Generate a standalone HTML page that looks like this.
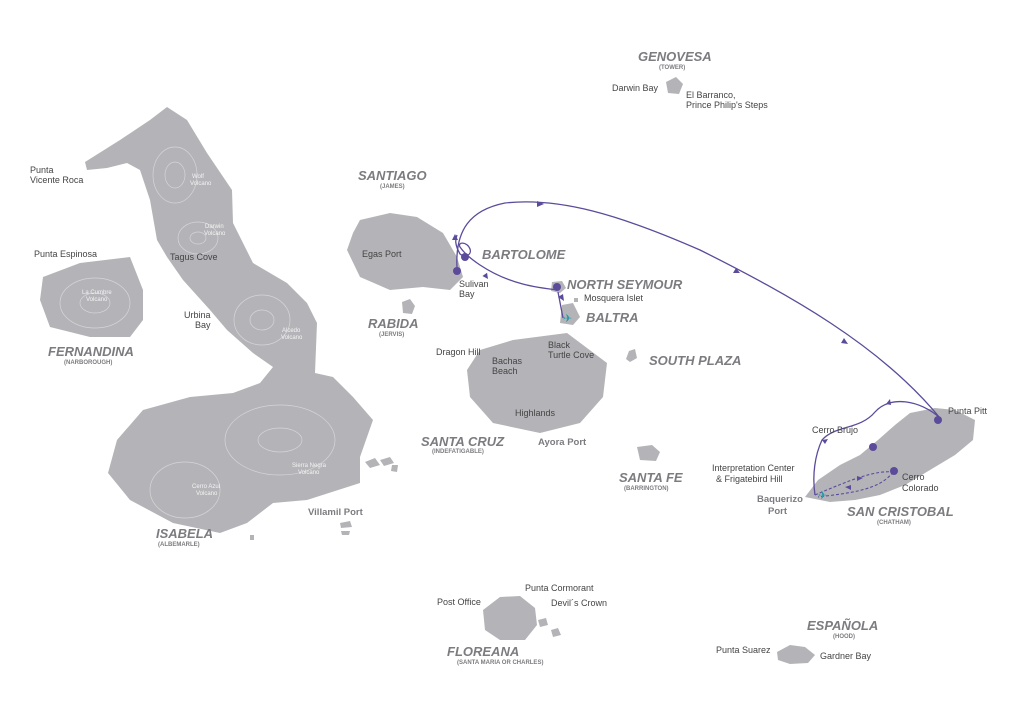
<!DOCTYPE html>
<html><head><meta charset="utf-8"><style>
html,body{margin:0;padding:0;background:#fff;}
svg{display:block;}
.l{font-family:"Liberation Sans",sans-serif;font-size:9px;fill:#444;}
.w{font-family:"Liberation Sans",sans-serif;font-size:6px;fill:#f4f4f4;}
.h{font-family:"Liberation Sans",sans-serif;font-size:13px;font-weight:bold;font-style:italic;fill:#7c7c80;}
.s{font-family:"Liberation Sans",sans-serif;font-size:6px;font-weight:bold;fill:#7c7c80;}
.p{font-family:"Liberation Sans",sans-serif;font-size:9.5px;font-weight:bold;fill:#7c7c80;}
</style></head><body>
<svg width="1024" height="722" viewBox="0 0 1024 722" xmlns="http://www.w3.org/2000/svg">
<defs><marker id="a" viewBox="0 0 10 10" refX="5" refY="5" markerWidth="5" markerHeight="5" orient="auto"><path d="M0,0 L10,5 L0,10 z" fill="#5b4b9a"/></marker></defs>
<g fill="#b4b4b8">
<!-- Isabela -->
<path d="M85,162 L120,140 L150,120 L167,107 L187,120 L207,153 L232,190 L233,223 L253,263 L287,283 L307,303 L317,323 L315,373 L333,377 L353,397 L373,420 L360,457 L360,483 L307,500 L273,503 L247,523 L220,533 L173,523 L130,500 L108,473 L117,440 L143,410 L190,397 L233,393 L260,383 L273,367 L253,353 L227,330 L210,310 L183,280 L167,257 L157,240 L150,200 L140,170 L127,163 L107,168 L87,170 Z"/>
<!-- Fernandina -->
<path d="M43,277 L80,263 L130,257 L143,290 L143,320 L130,337 L90,337 L50,327 L40,300 Z"/>
<!-- Santiago -->
<path d="M360,220 L390,213 L417,217 L443,233 L457,257 L463,277 L450,290 L423,287 L390,290 L360,277 L347,250 L353,233 Z"/>
<!-- Rabida -->
<path d="M402,302 L410,299 L415,306 L412,314 L403,313 Z"/>
<!-- Santa Cruz -->
<path d="M480,350 L513,340 L567,333 L607,363 L603,397 L580,423 L540,433 L493,423 L470,397 L467,370 Z"/>
<!-- Baltra -->
<path d="M562,305 L573,303 L580,317 L573,325 L560,323 Z"/>
<!-- N Seymour -->
<path d="M552,282 L562,281 L566,288 L560,293 L551,291 Z"/>
<path d="M574,298 L578,298 L578,302 L574,302 Z"/>
<!-- South Plaza -->
<path d="M629,351 L635,349 L637,358 L630,362 L626,359 Z"/>
<!-- Santa Fe -->
<path d="M637,447 L652,445 L660,452 L656,461 L640,460 Z"/>
<!-- Genovesa -->
<path d="M666,82 L676,77 L683,84 L679,94 L668,93 Z"/>
<!-- San Cristobal -->
<path d="M805,497 L818,480 L840,465 L860,455 L878,440 L895,425 L910,413 L935,408 L955,410 L975,420 L973,440 L955,455 L930,470 L905,485 L880,495 L855,500 L830,502 Z"/>
<!-- Floreana -->
<path d="M483,610 L500,597 L520,596 L535,608 L537,625 L525,640 L500,640 L485,630 Z"/>
<path d="M538,620 L546,618 L548,625 L540,627 Z"/>
<path d="M551,630 L558,628 L561,635 L553,637 Z"/>
<!-- Española -->
<path d="M777,652 L790,645 L805,647 L815,655 L808,663 L790,664 L778,660 Z"/>
<!-- small islets near Isabela -->
<path d="M365,462 L375,458 L380,465 L370,468 Z"/><path d="M380,460 L390,457 L394,463 L384,466 Z"/><path d="M392,465 L398,465 L397,472 L391,471 Z"/>
<path d="M340,523 L350,521 L352,527 L341,528 Z"/><path d="M341,531 L350,531 L349,535 L342,535 Z"/><path d="M250,535 L254,535 L254,540 L250,540 Z"/>
</g>
<!-- contour hints -->
<g fill="none" stroke="#d6d6d9" stroke-width="0.7">
<ellipse cx="175" cy="175" rx="22" ry="28"/><ellipse cx="175" cy="175" rx="10" ry="13"/>
<ellipse cx="198" cy="238" rx="20" ry="16"/><ellipse cx="198" cy="238" rx="8" ry="6"/>
<ellipse cx="262" cy="320" rx="28" ry="25"/><ellipse cx="262" cy="320" rx="12" ry="10"/>
<ellipse cx="280" cy="440" rx="55" ry="35"/><ellipse cx="280" cy="440" rx="22" ry="12"/>
<ellipse cx="185" cy="490" rx="35" ry="28"/>
<ellipse cx="95" cy="303" rx="35" ry="25"/><ellipse cx="95" cy="303" rx="15" ry="10"/>
</g>
<!-- routes -->
<g fill="none" stroke="#5b4b9a" stroke-width="1.3">
<path d="M558,290 C540,288 510,285 480,265 C468,257 462,250 460,247 C457,242 467,241 470,249 C472,255 465,258 460,254 C455,245 455,240 457,235" />
<path d="M563,318 L558,292" marker-mid="url(#a)"/>
<path d="M457,268 C455,230 470,210 505,203 C560,197 620,215 700,250 C790,295 880,345 940,418"/>
<path d="M940,418 C920,400 890,395 875,412 C860,430 835,425 822,440 C815,455 812,475 815,495"/>
</g>
<g fill="none" stroke="#5b4b9a" stroke-width="1.1" stroke-dasharray="3,2">
<path d="M815,495 C850,480 875,470 893,472"/>
<path d="M893,472 C880,490 850,493 818,497"/>
</g>
<!-- arrowheads -->
<g fill="#5b4b9a">
<path d="M564,301 l-6,-4 l5,-3 z"/>
<path d="M488,279 l-6,-2 l4,-4 z" transform="rotate(10 488 279)"/>
<path d="M455,234 l-3,6 l6,0 z"/>
<path d="M544,204 l-7,-3 l0,6 z"/>
<path d="M740,273 l-7,0 l3,-5 z"/>
<path d="M848,344 l-7,-1 l3,-5 z"/>
<path d="M886,404 l4,-5 l1,6 z"/>
<path d="M822,440 l6,-1 l-3,5 z"/>
<path d="M863,478 l-6,-2 l0,5 z"/>
<path d="M845,487 l6,-2 l0,5 z"/>
</g>
<!-- dots -->
<g fill="#5b4b9a">
<circle cx="457" cy="271" r="4"/><circle cx="465" cy="257" r="4"/><circle cx="557" cy="287" r="4"/>
<circle cx="938" cy="420" r="4"/><circle cx="873" cy="447" r="4"/><circle cx="894" cy="471" r="4"/>
</g>
<text x="563" y="322" font-size="11" fill="#2a9aa8" font-family="DejaVu Sans">✈</text>
<text x="818" y="499" font-size="11" fill="#2a9aa8" font-family="DejaVu Sans">✈</text>
<!-- headings -->
<text class="h" x="638" y="61">GENOVESA</text><text class="s" x="659" y="69">(TOWER)</text>
<text class="h" x="358" y="180">SANTIAGO</text><text class="s" x="380" y="188">(JAMES)</text>
<text class="h" x="482" y="259">BARTOLOME</text>
<text class="h" x="567" y="289">NORTH SEYMOUR</text>
<text class="h" x="586" y="322">BALTRA</text>
<text class="h" x="368" y="328">RABIDA</text><text class="s" x="379" y="336">(JERVIS)</text>
<text class="h" x="649" y="365">SOUTH PLAZA</text>
<text class="h" x="48" y="356">FERNANDINA</text><text class="s" x="64" y="364">(NARBOROUGH)</text>
<text class="h" x="421" y="446">SANTA CRUZ</text><text class="s" x="432" y="453">(INDEFATIGABLE)</text>
<text class="h" x="619" y="482">SANTA FE</text><text class="s" x="624" y="490">(BARRINGTON)</text>
<text class="h" x="156" y="538">ISABELA</text><text class="s" x="158" y="546">(ALBEMARLE)</text>
<text class="h" x="847" y="516">SAN CRISTOBAL</text><text class="s" x="877" y="524">(CHATHAM)</text>
<text class="h" x="447" y="656">FLOREANA</text><text class="s" x="457" y="664">(SANTA MARIA OR CHARLES)</text>
<text class="h" x="807" y="630">ESPAÑOLA</text><text class="s" x="833" y="638">(HOOD)</text>
<text class="p" x="538" y="445">Ayora Port</text>
<text class="p" x="308" y="515">Villamil Port</text>
<text class="p" x="757" y="502">Baquerizo</text><text class="p" x="768" y="514">Port</text>
<!-- labels -->
<text class="l" x="612" y="91">Darwin Bay</text>
<text class="l" x="686" y="98">El Barranco,</text><text class="l" x="686" y="108">Prince Philip's Steps</text>
<text class="l" x="30" y="173">Punta</text><text class="l" x="30" y="183">Vicente Roca</text>
<text class="l" x="34" y="257">Punta Espinosa</text>
<text class="l" x="170" y="260">Tagus Cove</text>
<text class="l" x="184" y="318">Urbina</text><text class="l" x="195" y="328">Bay</text>
<text class="l" x="362" y="257">Egas Port</text>
<text class="l" x="459" y="287">Sulivan</text><text class="l" x="459" y="297">Bay</text>
<text class="l" x="584" y="301">Mosquera Islet</text>
<text class="l" x="436" y="355">Dragon Hill</text>
<text class="l" x="548" y="348">Black</text><text class="l" x="548" y="358">Turtle Cove</text>
<text class="l" x="492" y="364">Bachas</text><text class="l" x="492" y="374">Beach</text>
<text class="l" x="515" y="416">Highlands</text>
<text class="l" x="948" y="414">Punta Pitt</text>
<text class="l" x="812" y="433">Cerro Brujo</text>
<text class="l" x="712" y="471">Interpretation Center</text><text class="l" x="716" y="482">&amp; Frigatebird Hill</text>
<text class="l" x="902" y="480">Cerro</text><text class="l" x="902" y="491">Colorado</text>
<text class="l" x="525" y="591">Punta Cormorant</text>
<text class="l" x="437" y="605">Post Office</text>
<text class="l" x="551" y="606">Devil´s Crown</text>
<text class="l" x="716" y="653">Punta Suarez</text>
<text class="l" x="820" y="659">Gardner Bay</text>
<text class="w" x="192" y="178">Wolf</text><text class="w" x="190" y="185">Volcano</text>
<text class="w" x="205" y="228">Darwin</text><text class="w" x="204" y="235">Volcano</text>
<text class="w" x="82" y="294">La Cumbre</text><text class="w" x="86" y="301">Volcano</text>
<text class="w" x="282" y="332">Alcedo</text><text class="w" x="281" y="339">Volcano</text>
<text class="w" x="292" y="467">Sierra Negra</text><text class="w" x="298" y="474">Volcano</text>
<text class="w" x="192" y="488">Cerro Azul</text><text class="w" x="196" y="495">Volcano</text>
</svg>
</body></html>
